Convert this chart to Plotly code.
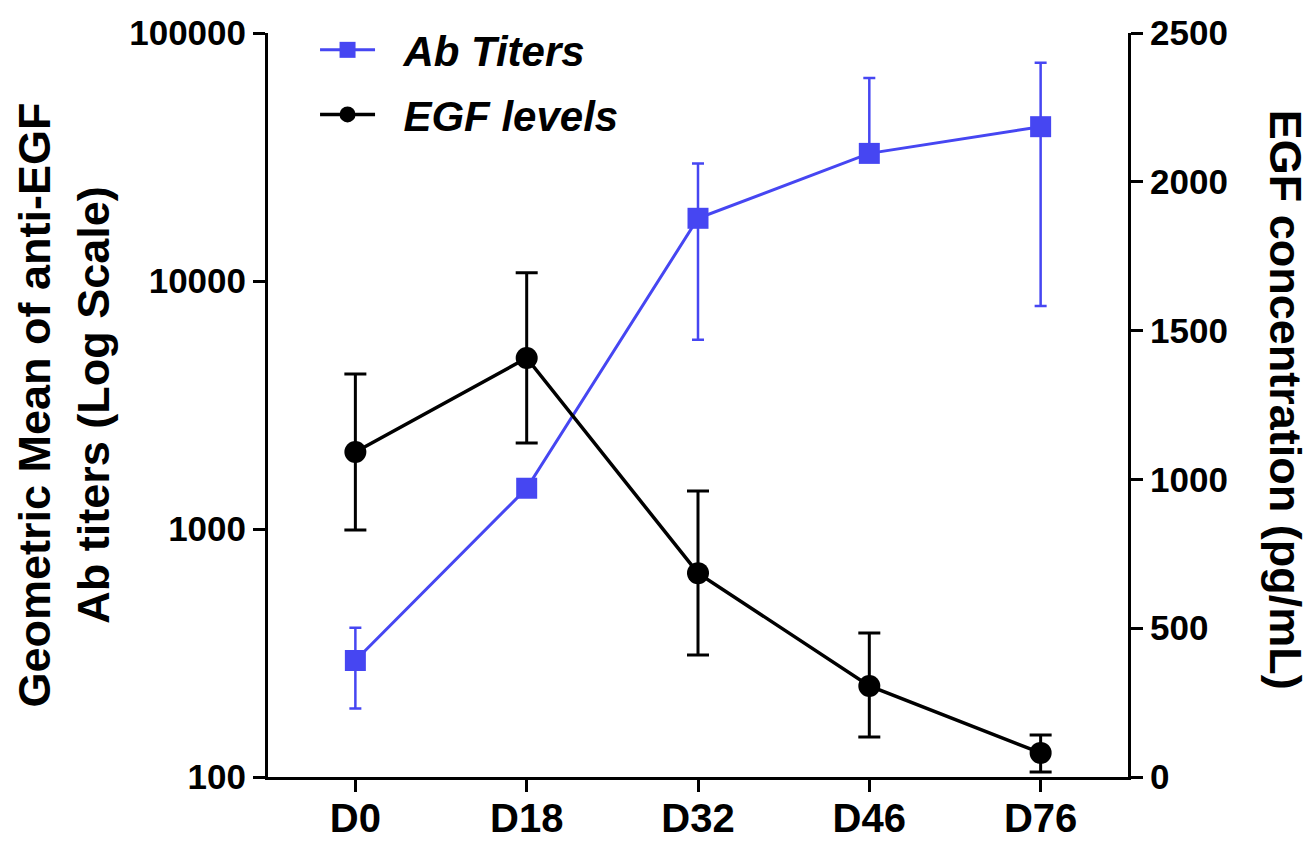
import plotly.graph_objects as go

categories = ["D0", "D18", "D32", "D46", "D76"]

ab_titers = [295, 1460, 17900, 32700, 41900]
ab_upper = [400, 1560, 29800, 65900, 75800]
ab_lower = [189, 1370, 5800, 30500, 7930]

egf_levels = [1092, 1408, 685, 306, 81]
egf_upper = [1354, 1694, 961, 484, 141]
egf_lower = [830, 1122, 410, 134, 17]

left_ticks = [100, 1000, 10000, 100000]
right_ticks = [0, 500, 1000, 1500, 2000, 2500]

BLUE = "#4646F2"
FONT = "Liberation Sans, Arial, sans-serif"
NB = "\u00a0\u00a0"

ab_plus = [u - v for u, v in zip(ab_upper, ab_titers)]
ab_minus = [v - l for v, l in zip(ab_titers, ab_lower)]
egf_plus = [u - v for u, v in zip(egf_upper, egf_levels)]
egf_minus = [v - l for v, l in zip(egf_levels, egf_lower)]

fig = go.Figure()
fig.add_trace(go.Scatter(
    x=categories, y=ab_titers, name=NB + "Ab Titers", mode="lines+markers",
    legendgroup="ab",
    line=dict(color=BLUE, width=3),
    marker=dict(symbol="square", size=21, color=BLUE),
    error_y=dict(type="data", symmetric=False, array=ab_plus, arrayminus=ab_minus,
                 color=BLUE, thickness=2.5, width=6),
    yaxis="y",
))
fig.add_trace(go.Scatter(
    x=categories, y=egf_levels, name=NB + "EGF levels", mode="lines+markers",
    legendgroup="egf",
    line=dict(color="black", width=3.5),
    marker=dict(symbol="circle", size=22, color="black"),
    error_y=dict(type="data", symmetric=False, array=egf_plus, arrayminus=egf_minus,
                 color="black", thickness=3, width=11),
    yaxis="y2",
))

axis_common = dict(showline=True, linecolor="black", linewidth=3, ticks="outside",
                   ticklen=12, tickwidth=3, tickcolor="black", showgrid=False,
                   zeroline=False, automargin=False)

fig.update_layout(
    template="none",
    width=1316, height=843,
    margin=dict(l=268, r=188, t=33, b=66, autoexpand=False),
    paper_bgcolor="white", plot_bgcolor="white",
    font=dict(family=FONT, color="black"),
    xaxis=dict(**axis_common, range=[-0.51, 4.51], ticklabelstandoff=-8,
               tickfont=dict(size=40, family=FONT, weight="bold")),
    yaxis=dict(**axis_common, type="log", range=[2, 5], tickvals=left_ticks,
               ticktext=[str(t) for t in left_ticks],
               tickfont=dict(size=35, family=FONT, weight="bold"),
               title=dict(text="Geometric Mean of anti-EGF<br>Ab titers (Log Scale)",
                          font=dict(size=45, family=FONT, weight="bold"), standoff=6)),
    yaxis2=dict(**axis_common, overlaying="y", side="right", anchor="x",
                range=[0, 2500], tickvals=right_ticks,
                tickfont=dict(size=35, family=FONT, weight="bold")),
    annotations=[dict(text="EGF concentration (pg/mL)", textangle=90,
                      xref="paper", yref="paper", x=1.1826, y=0.507,
                      xanchor="center", yanchor="middle", showarrow=False,
                      font=dict(size=45, family=FONT, weight="bold"))],
    legend=dict(x=0.0547, y=1.0228, xanchor="left", yanchor="top",
                bgcolor="rgba(0,0,0,0)", itemwidth=55, tracegroupgap=7,
                font=dict(size=42, family=FONT, weight="bold", style="italic")),
    showlegend=True,
)

fig.write_html("out.html", config={"displayModeBar": False},
               post_script="document.body.style.margin='0';")
